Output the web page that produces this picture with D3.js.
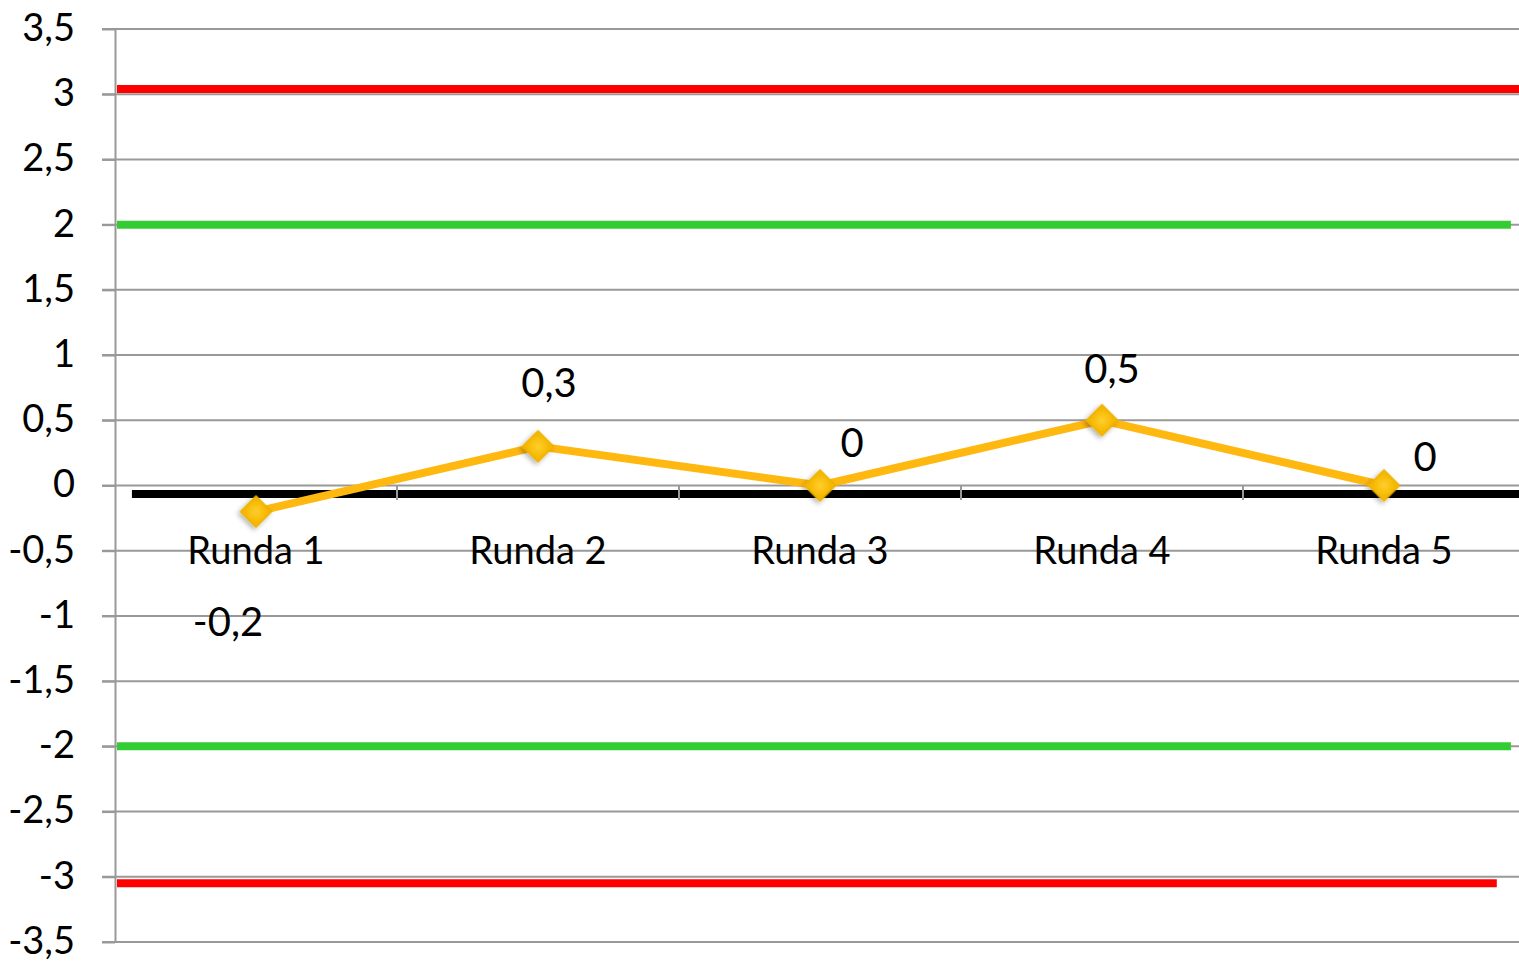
<!DOCTYPE html>
<html>
<head>
<meta charset="utf-8">
<script src="https://d3js.org/d3.v7.min.js"></script>
<style>
  body { margin: 0; background: #fff; }
  text { font-family: "Lato", "Open Sans", sans-serif; fill: #000; }
</style>
</head>
<body>
<div id="chart"></div>
<script>
// chart data
const rounds = ["Runda 1", "Runda 2", "Runda 3", "Runda 4", "Runda 5"];
const scores = [-0.2, 0.3, 0, 0.5, 0];
const yTicks = [-3.5, -3, -2.5, -2, -1.5, -1, -0.5, 0, 0.5, 1, 1.5, 2, 2.5, 3, 3.5];
// limit lines: value and how far along the rounds (in rounds) they reach
const limitValues = [3.04, 2, -2, -3.05];
const limitReach = [5, 4.95, 4.95, 4.9];
const limitKinds = ["red", "green", "green", "red"];
const baseValue = -0.065;

const W = 1519, H = 961;
const margins = { l: 115, t: 29, b: 19 };

const svg = d3.select("#chart").append("svg")
    .attr("width", W)
    .attr("height", H);

const defs = svg.append("defs");
const shadow = defs.append("filter").attr("id", "shadow")
    .attr("x", "-50%").attr("y", "-50%").attr("width", "200%").attr("height", "200%");
shadow.append("feDropShadow")
    .attr("dx", 0).attr("dy", 3).attr("stdDeviation", 2.5)
    .attr("flood-color", "#000").attr("flood-opacity", 0.3);

const grad = defs.append("radialGradient").attr("id", "markerFill");
grad.append("stop").attr("offset", "0%").attr("stop-color", "#ffcf2e");
grad.append("stop").attr("offset", "100%").attr("stop-color", "#f5b800");

const x = d3.scaleBand()
    .domain(rounds)
    .range([margins.l, margins.l + 282 * rounds.length]);

// continuous version of x for lines that run by "round count"
const xr = d3.scaleLinear()
    .domain([0, rounds.length])
    .range(x.range());

const y = d3.scaleLinear()
    .domain([-3.5, 3.5])
    .range([H - margins.b, margins.t]);

const fmt = d => String(d).replace(".", ",");

// gridlines
svg.append("g")
    .selectAll("line")
    .data(yTicks)
    .enter().append("line")
    .attr("x1", 102)
    .attr("x2", W)
    .attr("y1", d => y(d))
    .attr("y2", d => y(d))
    .attr("stroke", "#999")
    .attr("stroke-width", 2);

// y axis
const yAxis = svg.append("g")
    .attr("transform", `translate(${margins.l},0)`)
    .call(d3.axisLeft(y).tickValues(yTicks).tickFormat(fmt).tickSizeInner(13).tickSizeOuter(0).tickPadding(27));
yAxis.select(".domain").attr("stroke", "#999").attr("stroke-width", 2);
yAxis.selectAll(".tick line").attr("stroke", "#999").attr("stroke-width", 2);
yAxis.selectAll(".tick text")
    .style("font-size", "38px")
    .attr("dy", "0.3em")
    .attr("fill", "#000");

// limit lines
const colours = { red: "#ff0000", green: "#33cc33" };
svg.append("g")
    .selectAll("line")
    .data(limitValues)
    .enter().append("line")
    .attr("x1", margins.l + 2)
    .attr("x2", (d, i) => xr(limitReach[i]))
    .attr("y1", d => y(d))
    .attr("y2", d => y(d))
    .attr("stroke", (d, i) => colours[limitKinds[i]])
    .attr("stroke-width", 8);

// category axis (thick black base)
svg.append("line")
    .attr("x1", xr(0.06))
    .attr("x2", W)
    .attr("y1", y(baseValue))
    .attr("y2", y(baseValue))
    .attr("stroke", "#000")
    .attr("stroke-width", 8);

svg.append("g")
    .selectAll("line")
    .data(rounds.slice(1))
    .enter().append("line")
    .attr("x1", d => x(d))
    .attr("x2", d => x(d))
    .attr("y1", y(0))
    .attr("y2", y(baseValue) + 6)
    .attr("stroke", "#999")
    .attr("stroke-width", 2);

// category labels
svg.append("g")
    .selectAll("text")
    .data(rounds)
    .enter().append("text")
    .attr("x", d => x(d) + x.bandwidth() / 2)
    .attr("y", 564)
    .attr("text-anchor", "middle")
    .style("font-size", "38px")
    .text(d => d);

// the series
const cx = (d, i) => x(rounds[i]) + x.bandwidth() / 2;
const line = d3.line()
    .x(cx)
    .y(d => y(d));

svg.append("path")
    .datum(scores)
    .attr("d", line)
    .attr("fill", "none")
    .attr("stroke", "#ffb80f")
    .attr("stroke-width", 8)
    .attr("stroke-linejoin", "round");

svg.append("g")
    .selectAll("path")
    .data(scores)
    .enter().append("path")
    .attr("d", d3.symbol().type(d3.symbolSquare).size(480))
    .attr("transform", (d, i) => `translate(${cx(d, i)},${y(d)}) rotate(45)`)
    .attr("fill", "url(#markerFill)")
    .attr("stroke", "#eeb000")
    .attr("stroke-width", 1.5)
    .attr("filter", "url(#shadow)");

// data labels, nudged by hand like the original
const nudge = [[-28, 124], [11, -49], [32, -29], [10, -37], [41, -15]];
svg.append("g")
    .selectAll("text")
    .data(scores)
    .enter().append("text")
    .attr("x", (d, i) => cx(d, i) + nudge[i][0])
    .attr("y", (d, i) => y(d) + nudge[i][1])
    .attr("text-anchor", "middle")
    .style("font-size", "40px")
    .text(d => fmt(d));
</script>
</body>
</html>
